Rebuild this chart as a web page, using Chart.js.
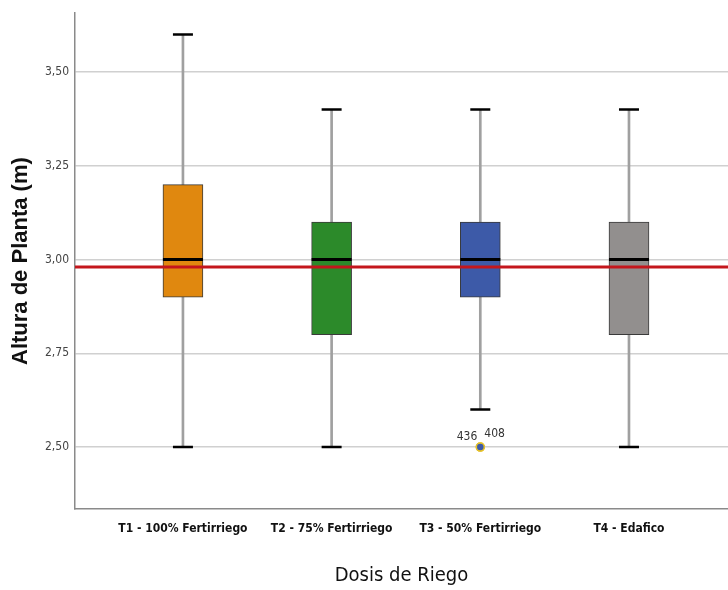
<!DOCTYPE html>
<html>
<head>
<meta charset="utf-8">
<script src="https://cdn.jsdelivr.net/npm/chart.js@4/dist/chart.umd.min.js"></script>
<style>
  body { margin: 0; background: #fff; }
  canvas { display: block; }
</style>
</head>
<body>
<canvas id="boxChart" width="728" height="590"></canvas>
<script>
// Box plot data (Altura de Planta by Dosis de Riego)
const categories = ['T1 - 100% Fertirriego', 'T2 - 75% Fertirriego', 'T3 - 50% Fertirriego', 'T4 - Edafico'];
const whiskerLow = [2.50, 2.50, 2.60, 2.50];
const q1 = [2.90, 2.80, 2.90, 2.80];
const median = [3.00, 3.00, 3.00, 3.00];
const q3 = [3.20, 3.10, 3.10, 3.10];
const whiskerHigh = [3.60, 3.40, 3.40, 3.40];
const boxColors = ['#e0880f', '#2c8a2a', '#3d5aa8', '#928f8e'];

// outliers: group number (1 = T1), value, case label
const outlierGroup = [3, 3];
const outlierValue = [2.50, 2.50];
const outlierLabel = ['436', '408'];

// overall mean line
const referenceLine = 2.98;
const yTicks = [2.50, 2.75, 3.00, 3.25, 3.50];

const X_MIN = 0.274;
const X_MAX = 4.666;
const xs = categories.map((c, i) => i + 1);

const NARROW = '"DejaVu Sans Condensed", "Liberation Sans Narrow", sans-serif';

// Draws the case numbers next to the outlier points
const outlierLabels = {
    id: 'outlierLabels',
    afterDatasetsDraw(chart) {
        const { ctx, scales: { x, y } } = chart;
        ctx.save();
        ctx.font = '12px ' + NARROW;
        ctx.fillStyle = '#333';
        outlierLabel.forEach((txt, i) => {
            const px = x.getPixelForValue(outlierGroup[i]);
            const py = y.getPixelForValue(outlierValue[i]);
            if (i === 0) {
                ctx.textAlign = 'right';
                ctx.fillText(txt, px - 3, py - 7);
            } else {
                ctx.textAlign = 'left';
                ctx.fillText(txt, px + 4, py - 10);
            }
        });
        ctx.restore();
    }
};

const ctx = document.getElementById('boxChart').getContext('2d');
new Chart(ctx, {
    type: 'bar',
    data: {
        datasets: [
            {
                type: 'line',
                data: [{ x: X_MIN, y: referenceLine }, { x: X_MAX, y: referenceLine }],
                borderColor: '#c4161c',
                borderWidth: 3,
                pointRadius: 0,
                order: 0
            },
            {
                type: 'line',
                showLine: false,
                data: xs.map((x, i) => ({ x: x, y: median[i] })),
                pointStyle: 'line',
                pointRadius: 20,
                pointBorderColor: '#000',
                pointBorderWidth: 3,
                order: 1
            },
            {
                type: 'line',
                showLine: false,
                data: outlierGroup.map((g, i) => ({ x: g, y: outlierValue[i] })),
                pointStyle: 'circle',
                pointRadius: 4,
                pointBackgroundColor: '#3d5aa8',
                pointBorderColor: '#e6c229',
                pointBorderWidth: 1.5,
                order: 1
            },
            {
                data: xs.map((x, i) => ({ x: x, y: [q1[i], q3[i]] })),
                backgroundColor: boxColors,
                borderColor: '#3a3a3a',
                borderWidth: 1,
                borderSkipped: false,
                barThickness: 40,
                grouped: false,
                order: 2
            },
            {
                type: 'line',
                showLine: false,
                data: xs.flatMap((x, i) => [{ x: x, y: whiskerLow[i] }, { x: x, y: whiskerHigh[i] }]),
                pointStyle: 'line',
                pointRadius: 10,
                pointBorderColor: '#000',
                pointBorderWidth: 2.5,
                order: 3
            },
            {
                data: xs.map((x, i) => ({ x: x, y: [whiskerLow[i], whiskerHigh[i]] })),
                backgroundColor: '#a0a0a0',
                barThickness: 2,
                grouped: false,
                order: 4
            }
        ]
    },
    options: {
        responsive: false,
        animation: false,
        layout: { padding: 0, autoPadding: false },
        plugins: {
            legend: { display: false },
            tooltip: { enabled: false }
        },
        scales: {
            x: {
                type: 'linear',
                offset: false,
                min: X_MIN,
                max: X_MAX,
                afterBuildTicks: s => { s.ticks = xs.map(v => ({ value: v })); },
                afterFit: s => { s.height = 81; },
                ticks: {
                    callback: v => categories[v - 1],
                    autoSkip: false,
                    maxRotation: 0,
                    padding: 13,
                    color: '#111',
                    font: { family: NARROW, size: 12, weight: 'bold' }
                },
                grid: { display: false, drawTicks: false },
                border: { color: '#8a8a8a', width: 1.5 },
                title: {
                    display: true,
                    text: 'Dosis de Riego',
                    color: '#111',
                    padding: { top: 0, bottom: 2 },
                    font: { family: NARROW, size: 20 }
                }
            },
            y: {
                min: 2.335,
                max: 3.657,
                afterBuildTicks: s => { s.ticks = yTicks.map(v => ({ value: v })); },
                afterFit: s => { s.width = 75; },
                ticks: {
                    callback: v => v.toFixed(2).replace('.', ','),
                    padding: 6,
                    color: '#444',
                    font: { family: NARROW, size: 12 }
                },
                grid: { color: '#d0d0d0', lineWidth: 1.5, drawTicks: false },
                border: { color: '#8a8a8a', width: 1.5 },
                title: {
                    display: true,
                    text: 'Altura de Planta (m)',
                    color: '#111',
                    padding: { top: 8, bottom: 0 },
                    font: { family: '"Liberation Sans", Arial, sans-serif', size: 22, weight: 'bold' }
                }
            }
        }
    },
    plugins: [outlierLabels]
});
</script>
</body>
</html>
